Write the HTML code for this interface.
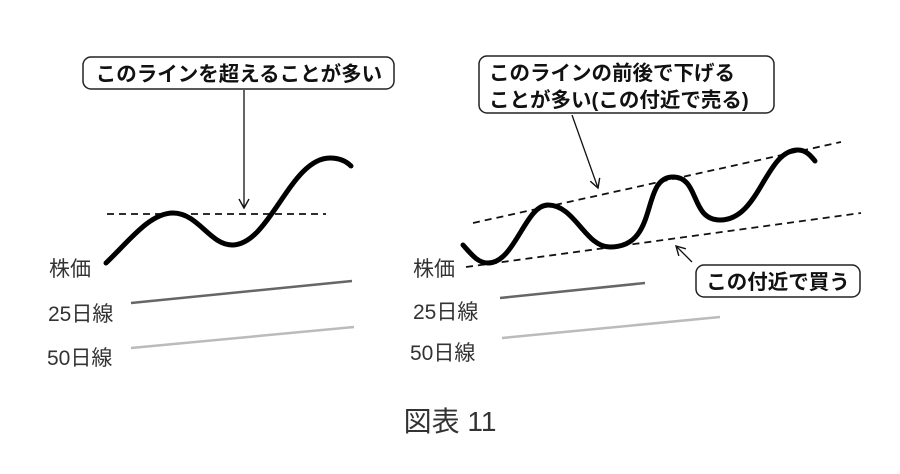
<!DOCTYPE html>
<html><head><meta charset="utf-8"><style>
body{margin:0;background:#fff;width:900px;height:469px;overflow:hidden}
svg text{font-family:"Liberation Sans","Noto Sans CJK JP",sans-serif}
.b{font-weight:bold;font-size:20.5px;fill:#111}
.l{font-size:21px;fill:#333}
</style></head><body>
<svg width="900" height="469" viewBox="0 0 900 469" xmlns="http://www.w3.org/2000/svg">
<defs><marker id="a" markerWidth="12" markerHeight="12" refX="10" refY="6" orient="auto" markerUnits="userSpaceOnUse"><path d="M1,1 L10,6 L1,11" fill="none" stroke="#111" stroke-width="1.4"/></marker></defs>
<!-- left -->
<rect x="83" y="57" width="311" height="32" rx="8" fill="#fff" stroke="#222" stroke-width="1.5"/>
<text class="b" x="239" y="81" text-anchor="middle">このラインを超えることが多い</text>
<line x1="244" y1="90" x2="244" y2="208" stroke="#111" stroke-width="1.3" marker-end="url(#a)"/>
<line x1="107" y1="214" x2="326" y2="214" stroke="#111" stroke-width="1.8" stroke-dasharray="7,5"/>
<path d="M106,263 C130,240 150,213 173,213 C198,213 210,245 232,245 C270,245 290,158 330,158 C340,158 347,162 351,166" fill="none" stroke="#000" stroke-width="5" stroke-linecap="round"/>
<text class="l" x="49" y="276">株価</text>
<text class="l" x="48" y="321">25日線</text>
<text class="l" x="47" y="365">50日線</text>
<line x1="131" y1="303" x2="352" y2="281" stroke="#666" stroke-width="2.5"/>
<line x1="131" y1="348" x2="354" y2="327" stroke="#bbb" stroke-width="2.5"/>
<!-- right -->
<rect x="479" y="56" width="295" height="57" rx="8" fill="#fff" stroke="#222" stroke-width="1.5"/>
<text class="b" x="489" y="80">このラインの前後で下げる</text>
<text class="b" x="489" y="107">ことが多い(この付近で売る)</text>
<line x1="572" y1="115" x2="598" y2="188" stroke="#111" stroke-width="1.3" marker-end="url(#a)"/>
<line x1="473" y1="223" x2="841" y2="142" stroke="#111" stroke-width="1.8" stroke-dasharray="7,5"/>
<line x1="466" y1="267" x2="861" y2="213" stroke="#111" stroke-width="1.8" stroke-dasharray="7,5"/>
<path d="M463,245 C472,255 478,263 488,263 C515,263 525,205 548,205 C575,205 585,247 610,247 C660,247 640,177 673,177 C700,177 690,220 720,220 C760,220 765,150 798,150 C806,150 811,156 815,161" fill="none" stroke="#000" stroke-width="5" stroke-linecap="round"/>
<line x1="692" y1="262" x2="676" y2="246" stroke="#111" stroke-width="1.3" marker-end="url(#a)"/>
<rect x="696" y="265" width="164" height="32" rx="8" fill="#fff" stroke="#222" stroke-width="1.5"/>
<text class="b" x="778" y="289" text-anchor="middle">この付近で買う</text>
<text class="l" x="413" y="276">株価</text>
<text class="l" x="413" y="319">25日線</text>
<text class="l" x="410" y="360">50日線</text>
<line x1="500" y1="298" x2="645" y2="283" stroke="#666" stroke-width="2.5"/>
<line x1="502" y1="338" x2="720" y2="317" stroke="#bbb" stroke-width="2.5"/>
<text x="450" y="431" text-anchor="middle" font-size="28" fill="#333">図表 11</text>
</svg>
</body></html>
